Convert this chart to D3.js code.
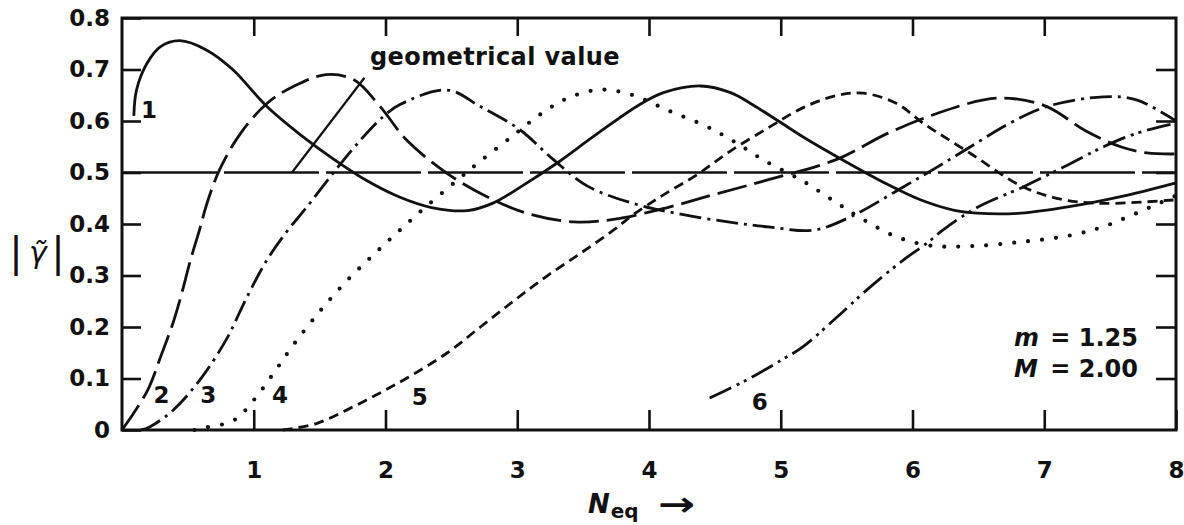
<!DOCTYPE html>
<html>
<head>
<meta charset="utf-8">
<script src="https://cdn.jsdelivr.net/npm/d3@7"></script>
<style>
  html, body { margin: 0; padding: 0; background: #fff; }
  svg { display: block; }
  text { font-family: "DejaVu Sans", sans-serif; fill: #111; }
</style>
</head>
<body>
<svg id="chart" width="1184" height="525"></svg>
<script>
// |γ̃| versus N_eq for six orders, m = 1.25, M = 2.00
const xTicks = [1, 2, 3, 4, 5, 6, 7, 8];
const yTicks = [0, 0.1, 0.2, 0.3, 0.4, 0.5, 0.6, 0.7, 0.8];
const geometricalValue = 0.5;

const curve1 = [[0.09,0.61],[0.11,0.66],[0.19,0.712],[0.29,0.744],[0.44,0.756],[0.64,0.738],[0.84,0.70],[1.10,0.628],[1.35,0.574],[1.60,0.527],[1.86,0.484],[2.11,0.452],[2.35,0.432],[2.62,0.426],[2.82,0.441],[3.05,0.476],[3.30,0.518],[3.60,0.574],[3.93,0.632],[4.11,0.655],[4.39,0.668],[4.62,0.655],[4.79,0.631],[5.0,0.597],[5.17,0.569],[5.48,0.523],[5.81,0.477],[6.06,0.447],[6.31,0.427],[6.49,0.421],[6.82,0.421],[7.2,0.434],[7.58,0.453],[8.0,0.48]];
const curve2 = [[0,0],[0.19,0.075],[0.29,0.14],[0.39,0.21],[0.45,0.262],[0.52,0.33],[0.59,0.39],[0.64,0.436],[0.74,0.505],[0.90,0.576],[1.10,0.634],[1.30,0.667],[1.55,0.69],[1.76,0.68],[1.96,0.628],[2.16,0.563],[2.47,0.498],[2.77,0.453],[3.07,0.421],[3.43,0.404],[3.73,0.409],[4.14,0.432],[4.49,0.457],[4.92,0.487],[5.43,0.526],[5.81,0.576],[6.19,0.615],[6.54,0.641],[6.74,0.644],[7.02,0.628],[7.32,0.58],[7.58,0.55],[7.78,0.538],[8.0,0.536]];
const curve3 = [[0.14,0],[0.21,0.006],[0.39,0.039],[0.59,0.097],[0.79,0.175],[0.95,0.259],[1.10,0.33],[1.25,0.385],[1.40,0.432],[1.60,0.498],[1.81,0.563],[1.98,0.608],[2.11,0.632],[2.47,0.66],[2.72,0.628],[3.02,0.583],[3.27,0.526],[3.53,0.474],[3.88,0.44],[4.2,0.421],[4.6,0.404],[4.92,0.394],[5.25,0.388],[5.53,0.414],[5.93,0.472],[6.19,0.511],[6.44,0.55],[6.74,0.596],[7.02,0.628],[7.45,0.647],[7.70,0.641],[8.0,0.60]];
const curve4 = [[0.55,0],[0.62,0.004],[0.85,0.019],[1.0,0.058],[1.15,0.11],[1.30,0.165],[1.50,0.23],[1.70,0.288],[1.90,0.338],[2.10,0.386],[2.30,0.432],[2.54,0.484],[2.72,0.522],[2.97,0.572],[3.17,0.612],[3.38,0.644],[3.63,0.661],[3.88,0.65],[4.14,0.621],[4.44,0.589],[4.64,0.561],[4.87,0.524],[5.17,0.483],[5.43,0.44],[5.63,0.408],[5.88,0.375],[6.14,0.358],[6.44,0.357],[6.82,0.365],[7.2,0.378],[7.45,0.395],[7.70,0.421],[8.0,0.455]];
const curve5 = [[1.22,0],[1.48,0.013],[1.73,0.042],[1.98,0.075],[2.21,0.108],[2.47,0.15],[2.72,0.2],[2.97,0.25],[3.22,0.298],[3.48,0.343],[3.73,0.388],[3.88,0.418],[4.1,0.455],[4.36,0.495],[4.62,0.542],[4.92,0.589],[5.17,0.626],[5.43,0.65],[5.63,0.654],[5.88,0.634],[6.08,0.596],[6.44,0.537],[6.84,0.472],[7.15,0.447],[7.45,0.44],[8.0,0.447]];
const curve6 = [[4.46,0.062],[4.74,0.097],[5.0,0.135],[5.17,0.162],[5.43,0.22],[5.68,0.278],[5.93,0.33],[6.11,0.363],[6.24,0.39],[6.49,0.432],[6.84,0.472],[7.15,0.511],[7.45,0.55],[7.70,0.576],[8.0,0.596]];

const series = [
  { name: "1", values: curve1, dash: null,           width: 2.8, cap: "butt",  label: [0.205, 0.606] },
  { name: "2", values: curve2, dash: "30,8",         width: 2.8, cap: "butt",  label: [0.30, 0.052] },
  { name: "3", values: curve3, dash: "22,6,3,6",     width: 2.8, cap: "butt",  label: [0.655, 0.052] },
  { name: "4", values: curve4, dash: "0,14",         width: 4.2, cap: "round", label: [1.20, 0.052] },
  { name: "5", values: curve5, dash: "10,6",         width: 2.8, cap: "butt",  label: [2.26, 0.049] },
  { name: "6", values: curve6, dash: "24,6,3,5,3,6", width: 2.8, cap: "butt",  label: [4.84, 0.039] }
];

const svg = d3.select("#chart");
const x = d3.scaleLinear().domain([0, 8]).range([122, 1176]);
const y = d3.scaleLinear().domain([0, 0.8]).range([430, 18]);

// inward ticks on all four sides
const axisStyle = g => {
  g.select(".domain").remove();
  g.selectAll(".tick line").attr("stroke", "#111").attr("stroke-width", 2.6);
  g.selectAll("text").attr("fill", "#111").attr("font-family", "DejaVu Sans")
    .attr("font-weight", "bold").attr("font-size", 23);
};

svg.append("g").attr("transform", `translate(${x(0)},0)`)
  .call(d3.axisLeft(y).tickValues(yTicks).tickSize(-19).tickSizeOuter(0).tickPadding(12)
    .tickFormat(d => d === 0 ? "0" : d3.format(".1f")(d)))
  .call(axisStyle);

svg.append("g").attr("transform", `translate(0,${y(0)})`)
  .call(d3.axisBottom(x).tickValues(xTicks).tickSize(-20).tickSizeOuter(0).tickPadding(32)
    .tickFormat(d3.format("d")))
  .call(axisStyle);

svg.append("g").attr("transform", `translate(0,${y(0.8)})`)
  .call(d3.axisTop(x).tickValues(xTicks.slice(0, 7)).tickSize(-18).tickSizeOuter(0).tickFormat(""))
  .call(axisStyle);

svg.append("g").attr("transform", `translate(${x(8)},0)`)
  .call(d3.axisRight(y).tickValues(yTicks.slice(1, 8)).tickSize(-20).tickSizeOuter(0).tickFormat(""))
  .call(axisStyle);

// frame
svg.append("rect")
  .attr("x", x(0)).attr("y", y(0.8))
  .attr("width", x(8) - x(0)).attr("height", y(0) - y(0.8))
  .attr("fill", "none").attr("stroke", "#111").attr("stroke-width", 3);

// geometrical value reference line and its leader
svg.append("line")
  .attr("x1", x(0)).attr("x2", x(8))
  .attr("y1", y(geometricalValue)).attr("y2", y(geometricalValue))
  .attr("stroke", "#111").attr("stroke-width", 2.4).attr("stroke-dasharray", "95,7");

svg.append("line")
  .attr("x1", x(1.29)).attr("y1", y(geometricalValue))
  .attr("x2", x(1.84)).attr("y2", y(0.684))
  .attr("stroke", "#111").attr("stroke-width", 2.2);

svg.append("text")
  .attr("x", 370).attr("y", 65)
  .attr("font-weight", "bold").attr("font-size", 24)
  .attr("letter-spacing", 0.4)
  .text("geometrical value");

// curves
const line = d3.line()
  .x(d => x(d[0])).y(d => y(d[1]))
  .curve(d3.curveCatmullRom.alpha(0.5));

svg.append("g").selectAll("path")
  .data(series).join("path")
  .attr("d", d => line(d.values))
  .attr("fill", "none")
  .attr("stroke", "#111")
  .attr("stroke-width", d => d.width)
  .attr("stroke-linecap", d => d.cap)
  .attr("stroke-dasharray", d => d.dash);

svg.append("g").selectAll("text")
  .data(series).join("text")
  .attr("x", d => x(d.label[0])).attr("y", d => y(d.label[1]))
  .attr("text-anchor", "middle")
  .attr("font-weight", "bold").attr("font-size", 23)
  .text(d => d.name);

// parameter box
const params = [["m", "= 1.25", 346], ["M", "= 2.00", 377]];
params.forEach(([sym, val, yy]) => {
  svg.append("text").attr("x", 1014).attr("y", yy)
    .attr("font-weight", "bold").attr("font-style", "italic").attr("font-size", 24)
    .text(sym);
  svg.append("text").attr("x", 1138).attr("y", yy).attr("text-anchor", "end")
    .attr("font-weight", "bold").attr("font-size", 24)
    .text(val);
});

// y-axis title |γ̃|
svg.append("text").attr("x", 16).attr("y", 266).attr("text-anchor", "middle")
  .attr("font-size", 40).text("|");
svg.append("text").attr("x", 38).attr("y", 263).attr("text-anchor", "middle")
  .attr("font-family", "DejaVu Serif").attr("font-style", "italic").attr("font-size", 30)
  .text("γ\u0303");
svg.append("text").attr("x", 58).attr("y", 266).attr("text-anchor", "middle")
  .attr("font-size", 40).text("|");

// x-axis title N_eq →
const xt = svg.append("text").attr("x", 588).attr("y", 513)
  .attr("font-weight", "bold").attr("font-size", 26);
xt.append("tspan").attr("font-style", "italic").text("N");
xt.append("tspan").attr("font-size", 20).attr("dy", 5).attr("dx", 1).text("eq");
svg.append("text")
  .attr("transform", "translate(658,516) scale(1.3,1)")
  .attr("font-weight", "bold").attr("font-size", 34)
  .text("\u2192");
</script>
</body>
</html>
